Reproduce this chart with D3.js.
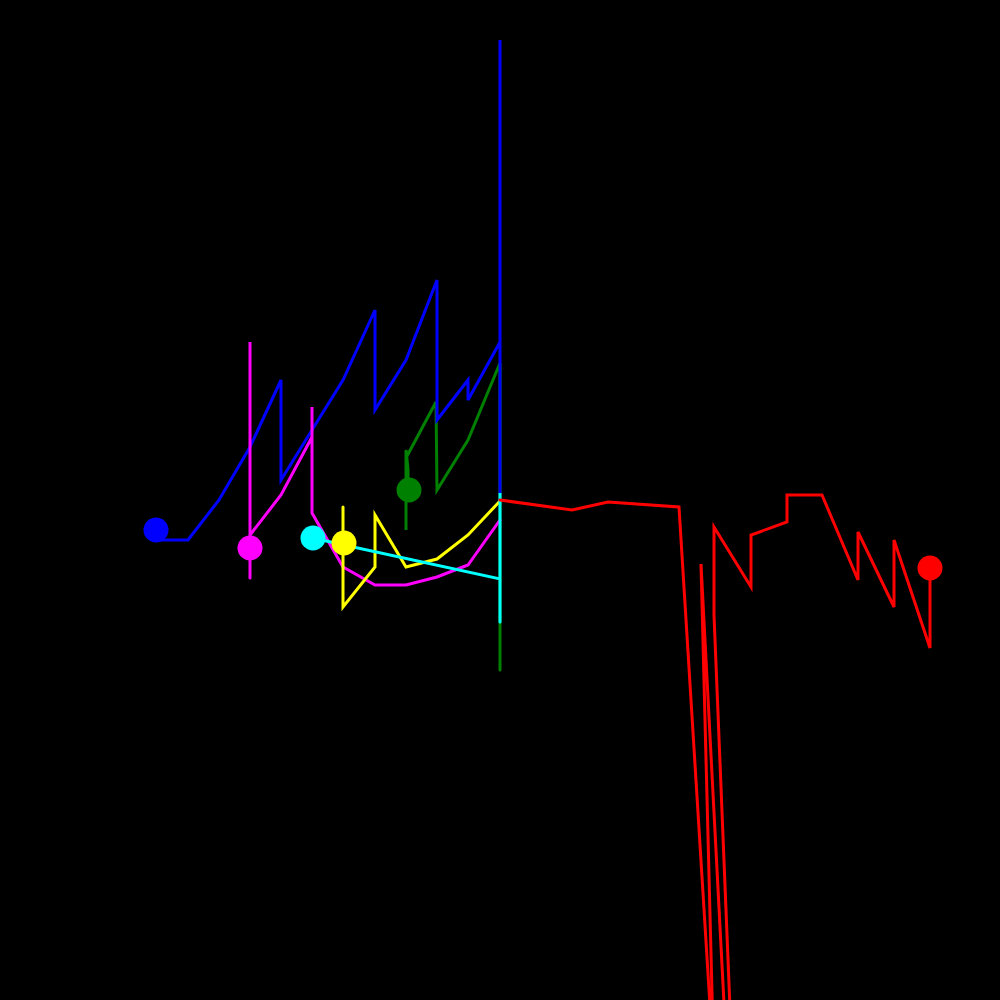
<!DOCTYPE html>
<html>
<head>
<meta charset="utf-8">
<script src="https://cdn.jsdelivr.net/npm/d3@7"></script>
<style>
  html, body { margin: 0; padding: 0; background: #000; }
  svg { display: block; }
</style>
</head>
<body>
<svg id="chart"></svg>
<script>
// Series values (x, y in chart units)
const blueX = [15.6, 18.8, 21.9, 25.0, 28.1, 28.1, 31.2, 34.3, 37.5, 37.5, 40.6, 43.7, 43.7, 46.8, 46.8, 50, 50, 50];
const blueY = [46, 46, 50, 55.3, 62, 52, 57, 62, 69, 59, 64, 72, 58, 62, 60, 65.8, 96, 50.7];

const magentaX = [25, 25, 25, 28.1, 31.2, 31.2, 31.2, 34.3, 37.5, 40.6, 43.7, 46.8, 50];
const magentaY = [42.2, 65.8, 46.5, 50.5, 56.3, 59.3, 48.7, 43.3, 41.5, 41.5, 42.3, 43.5, 48];

const yellowX = [34.3, 34.3, 37.5, 37.5, 40.6, 43.7, 46.8, 50];
const yellowY = [49.3, 39.3, 43.3, 48.5, 43.3, 44.1, 46.5, 49.9];

const cyanX = [31.3, 34.4, 50, 50, 50];
const cyanY = [46.2, 45.5, 42.1, 50.7, 37.8];

const greenX = [40.8, 40.8, 40.6, 40.6, 40.6, 43.6, 43.7, 46.8, 50, 50];
const greenY = [51, 53.1, 55, 47, 54.2, 59.8, 51, 56, 63.7, 33];

const redX = [50, 57.2, 60.8, 67.9, 71.4, 70.1, 75, 71.4, 71.4, 75.1, 75.1, 78.7, 78.7, 82.2, 85.8, 85.8, 89.4, 89.4, 93, 93];
const redY = [50, 49, 49.8, 49.3, -7, 43.6, -50, 38.5, 47.3, 41.3, 46.5, 47.8, 50.5, 50.5, 42, 46.8, 39.3, 46, 35.2, 43.2];

// Marker dots
const dotNames = ["green", "blue", "magenta", "yellow", "cyan", "red"];
const dotX = [40.9, 15.6, 25, 34.4, 31.3, 93];
const dotY = [51, 47, 45.2, 45.7, 46.2, 43.2];

const series = [
    { color: "#008000", xs: greenX, ys: greenY },
    { color: "#0000ff", xs: blueX, ys: blueY },
    { color: "#ff00ff", xs: magentaX, ys: magentaY },
    { color: "#ffff00", xs: yellowX, ys: yellowY },
    { color: "#00ffff", xs: cyanX, ys: cyanY },
    { color: "#ff0000", xs: redX, ys: redY }
];
const dotColors = { green: "#008000", blue: "#0000ff", magenta: "#ff00ff", yellow: "#ffff00", cyan: "#00ffff", red: "#ff0000" };

const width = 1000, height = 1000;

const svg = d3.select("#chart")
    .attr("width", width)
    .attr("height", height);

svg.append("rect")
    .attr("width", width)
    .attr("height", height)
    .attr("fill", "#000");

const x = d3.scaleLinear().domain([0, 100]).range([0, width]);
const y = d3.scaleLinear().domain([0, 100]).range([height, 0]);

const line = d3.line()
    .x(d => x(d[0]))
    .y(d => y(d[1]));

series.forEach(s => {
    const pts = s.xs.map((v, i) => [v, s.ys[i]]);
    svg.append("path")
        .datum(pts)
        .attr("d", line)
        .attr("fill", "none")
        .attr("stroke", s.color)
        .attr("stroke-width", 3)
        .attr("stroke-linecap", "round")
        .attr("stroke-linejoin", "miter");
});

// dots on top
svg.selectAll("circle.dot")
    .data(dotNames)
    .enter()
    .append("circle")
    .attr("class", "dot")
    .attr("cx", (d, i) => x(dotX[i]))
    .attr("cy", (d, i) => y(dotY[i]))
    .attr("r", 12.5)
    .attr("fill", d => dotColors[d]);
</script>
</body>
</html>
